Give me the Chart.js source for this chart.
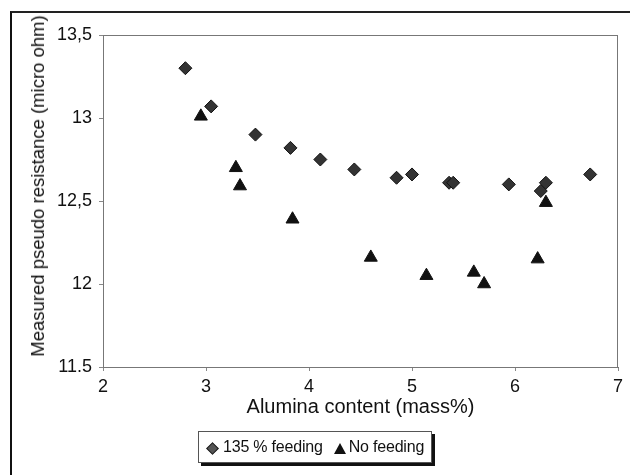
<!DOCTYPE html>
<html>
<head>
<meta charset="utf-8">
<script src="https://cdn.jsdelivr.net/npm/chart.js@4"></script>
<style>
  html, body { margin: 0; padding: 0; background: #fff; }
  #wrap { position: relative; width: 630px; height: 475px; overflow: hidden; font-family: "Liberation Sans", Arial, sans-serif; }
  #frame { position: absolute; left: 10px; top: 11px; width: 640px; height: 480px; border-left: 2px solid #111; border-top: 2px solid #222; }
  #chart { position: absolute; left: 0; top: 0; }
  #ytitle { position: absolute; left: 38px; top: 186px; transform: translate(-50%, -50%) rotate(-90deg); white-space: nowrap;
            font-size: 18.5px; color: #111; }
  #legend { position: absolute; left: 198px; top: 431px; width: 232px; height: 30px; border: 1px solid #555; box-shadow: 3px 3px 0 #111; background: #fff;
            display: flex; align-items: center; font-size: 16px; letter-spacing: -0.2px; color: #111; white-space: nowrap; }
  .dia { flex-shrink: 0; display: inline-block; width: 7px; height: 7px; background: #555; border: 1px solid #222; transform: rotate(45deg); margin: 2px 6px 0 9px; }
  .tri { flex-shrink: 0; display: inline-block; width: 0; height: 0; border-left: 6px solid transparent; border-right: 6px solid transparent; border-bottom: 11px solid #111; margin: 2px 3px 0 11px; }
</style>
</head>
<body>
<div id="wrap">
  <div id="frame"></div>
  <canvas id="chart" width="630" height="475"></canvas>
  <div id="ytitle">Measured pseudo resistance (micro ohm)</div>
  <div id="legend"><span class="dia"></span>135 % feeding<span class="tri"></span>No feeding</div>
</div>
<script>
// values
const feedX = [2.80, 3.05, 3.48, 3.82, 4.11, 4.44, 4.85, 5.00, 5.36, 5.40, 5.94, 6.25, 6.30, 6.73];
const feedY = [13.30, 13.07, 12.90, 12.82, 12.75, 12.69, 12.64, 12.66, 12.61, 12.61, 12.60, 12.56, 12.61, 12.66];
const noFeedX = [2.95, 3.29, 3.33, 3.84, 4.60, 5.14, 5.60, 5.70, 6.22, 6.30];
const noFeedY = [13.01, 12.70, 12.59, 12.39, 12.16, 12.05, 12.07, 12.00, 12.15, 12.49];
const yTickValues = [11.5, 12, 12.5, 13, 13.5];
const yTickLabels = ['11.5', '12', '12,5', '13', '13,5'];

// draw the top and right edges of the plot box
const boxPlugin = {
    id: 'box',
    afterDraw(chart) {
        const a = chart.chartArea, ctx = chart.ctx;
        ctx.save();
        ctx.strokeStyle = '#777';
        ctx.lineWidth = 1;
        ctx.strokeRect(a.left + 0.5, a.top + 0.5, a.right - a.left - 1, a.bottom - a.top);
        ctx.restore();
    }
};

const toPoints = (xs, ys) => xs.map((x, i) => ({ x: x, y: ys[i] }));
const tickFont = { family: 'Liberation Sans', size: 18 };

new Chart(document.getElementById('chart'), {
    type: 'scatter',
    data: {
        datasets: [
            { label: '135 % feeding', data: toPoints(feedX, feedY), pointStyle: 'rectRot', pointRadius: 6.5,
              backgroundColor: '#333', borderColor: '#111', borderWidth: 1 },
            { label: 'No feeding', data: toPoints(noFeedX, noFeedY), pointStyle: 'triangle', pointRadius: 7.5,
              backgroundColor: '#111', borderColor: '#111', borderWidth: 1 }
        ]
    },
    options: {
        responsive: false,
        animation: false,
        layout: { padding: { left: 20, top: 35, right: 12, bottom: 55 } },
        plugins: { legend: { display: false }, tooltip: { enabled: false } },
        scales: {
            x: {
                type: 'linear', min: 2, max: 7,
                afterFit: s => { s.height = 53; },
                ticks: { stepSize: 1, color: '#111', padding: 5, font: tickFont },
                grid: { drawOnChartArea: false, tickLength: 4, tickColor: '#888' },
                border: { color: '#777' },
                title: { display: true, text: 'Alumina content (mass%)', color: '#111',
                         font: { family: 'Liberation Sans', size: 20 }, padding: { top: 0, bottom: 1 } }
            },
            y: {
                type: 'linear', min: 11.5, max: 13.5,
                afterFit: s => { s.width = 83; },
                afterBuildTicks: s => { s.ticks = yTickValues.map(v => ({ value: v })); },
                ticks: { color: '#111', padding: 7, font: tickFont,
                         callback: v => yTickLabels[yTickValues.indexOf(v)] },
                grid: { drawOnChartArea: false, tickLength: 4, tickColor: '#888' },
                border: { color: '#777' }
            }
        }
    },
    plugins: [boxPlugin]
});
</script>
</body>
</html>
